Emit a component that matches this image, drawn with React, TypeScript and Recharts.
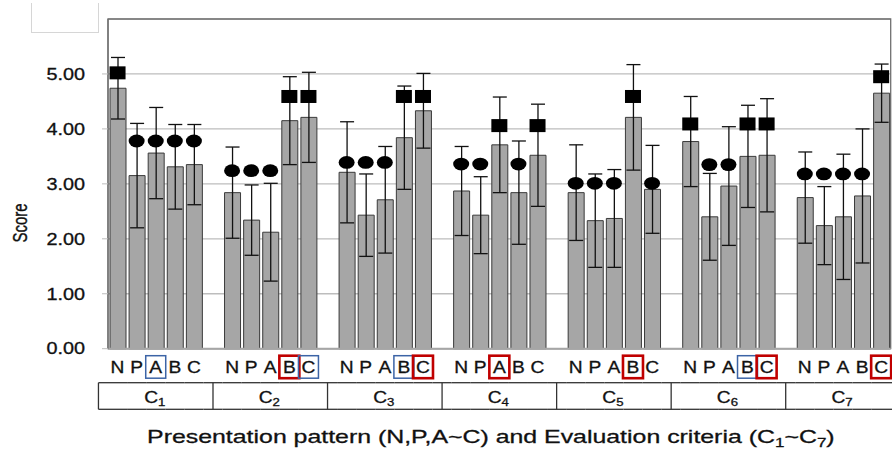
import React from "react";
import {
  ComposedChart,
  Bar,
  ErrorBar,
  Scatter,
  XAxis,
  YAxis,
  CartesianGrid,
  ReferenceArea,
} from "recharts";

// Score by presentation pattern (N,P,A,B,C) within each evaluation criterion C1..C7
const patterns = ["N", "P", "A", "B", "C"];
const criteria = ["1", "2", "3", "4", "5", "6", "7"];
const yTicks = [0, 1, 2, 3, 4, 5];

const means = [
  [4.74, 3.15, 3.56, 3.31, 3.35],
  [2.84, 2.34, 2.12, 4.15, 4.21],
  [3.21, 2.43, 2.71, 3.84, 4.33],
  [2.87, 2.43, 3.71, 2.84, 3.52],
  [2.84, 2.33, 2.37, 4.21, 2.9],
  [3.77, 2.4, 2.96, 3.5, 3.52],
  [2.75, 2.24, 2.4, 2.78, 4.65],
];

const sds = [
  [0.56, 0.95, 0.83, 0.77, 0.73],
  [0.83, 0.64, 0.89, 0.8, 0.82],
  [0.92, 0.75, 0.97, 0.94, 0.68],
  [0.81, 0.7, 0.87, 0.94, 0.93],
  [0.87, 0.85, 0.89, 0.96, 0.8],
  [0.82, 0.79, 1.08, 0.93, 1.03],
  [0.83, 0.71, 1.14, 1.22, 0.53],
];

// s = square (significant high group), c = circle
const markerKinds = [
  ["s", "c", "c", "c", "c"],
  ["c", "c", "c", "s", "s"],
  ["c", "c", "c", "s", "s"],
  ["c", "c", "s", "c", "s"],
  ["c", "c", "c", "s", "c"],
  ["s", "c", "c", "s", "s"],
  ["c", "c", "c", "c", "s"],
];
const squareLevel = [5.02, 4.59, 4.59, 4.06, 4.59, 4.09, 4.95];
const circleLevel = [3.78, 3.24, 3.39, 3.36, 3.01, 3.35, 3.18];

// boxed pattern letters under the bars
const boxes = [
  ["", "", "blue", "", ""],
  ["", "", "", "red", "blue"],
  ["", "", "", "blue", "red"],
  ["", "", "red", "", ""],
  ["", "", "", "red", ""],
  ["", "", "", "blue", "red"],
  ["", "", "", "", "red"],
];

type Row = {
  key: string;
  letter: string;
  mean: number | null;
  sd: number | null;
  mark: number | null;
  kind: string;
  box: string;
  group: number;
  pos: number;
};

// one slot per bar, plus an empty slot between criteria groups
const rows: Row[] = [];
criteria.forEach((_, g) => {
  patterns.forEach((letter, p) => {
    const kind = markerKinds[g][p];
    rows.push({
      key: `${g}-${p}`,
      letter,
      mean: means[g][p],
      sd: sds[g][p],
      mark: kind === "s" ? squareLevel[g] : circleLevel[g],
      kind,
      box: boxes[g][p],
      group: g,
      pos: p,
    });
  });
  if (g < criteria.length - 1) {
    rows.push({ key: `gap${g}`, letter: "", mean: null, sd: null, mark: null, kind: "", box: "", group: g, pos: -1 });
  }
});

const W = 892;
const H = 454;
const PLOT_LEFT = 108;
const PLOT_RIGHT = 890.7;
const SLOT_W = (PLOT_RIGHT - PLOT_LEFT) / rows.length;
const FONT = "'Liberation Sans', Arial, sans-serif";
const SX = 1.24;
const BOX_COLOR: Record<string, string> = { red: "#c00000", blue: "#3c64a6" };
// slight outline so the text reads as heavy as the blurred original
const INK = { fill: "#111", stroke: "#111", strokeWidth: 0.3 };

function YTick({ x, y, payload }: any) {
  return (
    <text
      transform={`translate(${x},${y}) scale(${SX},1)`}
      textAnchor="end"
      dy="0.36em"
      fontSize={16}
      fontFamily={FONT}
      {...INK}
    >
      {Number(payload.value).toFixed(2)}
    </text>
  );
}

function SlotTick({ x, y, payload }: any) {
  const i = payload.index;
  const r = rows[i];
  if (!r) return null;
  const half = SLOT_W / 2;
  const x1 = i === 0 ? x - SLOT_W : x - half;
  const x2 = i === rows.length - 1 ? x + SLOT_W : x + half;
  const tTop = y + 34;
  const tBot = y + 60.6;
  const line = "#333";
  return (
    <g>
      <line x1={x1} x2={x2} y1={tTop} y2={tTop} stroke={line} strokeWidth={1.3} />
      <line x1={x1} x2={x2} y1={tBot} y2={tBot} stroke={line} strokeWidth={1.3} />
      {i === 0 && <line x1={x1} x2={x1} y1={tTop} y2={tBot} stroke={line} strokeWidth={1.3} />}
      {r.pos === -1 && <line x1={x} x2={x} y1={tTop} y2={tBot} stroke={line} strokeWidth={1.3} />}
      {r.box && (
        <rect
          x={x - 10}
          y={y + 7}
          width={20}
          height={22.5}
          fill="none"
          stroke={BOX_COLOR[r.box]}
          strokeWidth={r.box === "red" ? 2.6 : 1.5}
        />
      )}
      {r.letter && (
        <text
          transform={`translate(${x},${y + 24.6}) scale(1.2,1)`}
          textAnchor="middle"
          fontSize={16}
          fontFamily={FONT}
          {...INK}
        >
          {r.letter}
        </text>
      )}
      {r.pos === 2 && (
        <text
          transform={`translate(${x - 1},${y + 54}) scale(1.2,1)`}
          textAnchor="middle"
          fontSize={16}
          fontFamily={FONT}
          {...INK}
        >
          C
          <tspan fontSize={11} dy={3.5}>
            {criteria[r.group]}
          </tspan>
        </text>
      )}
    </g>
  );
}

function TitleLabel({ viewBox }: any) {
  const vb = viewBox || { x: PLOT_LEFT, y: 348.7, width: PLOT_RIGHT - PLOT_LEFT };
  return (
    <text
      transform={`translate(${vb.x + vb.width / 2 - 8.5},${vb.y + 94.6}) scale(1.31,1)`}
      textAnchor="middle"
      fontSize={19}
      fontFamily={FONT}
      {...INK}
    >
      Presentation pattern (N,P,A~C) and Evaluation criteria (C
      <tspan fontSize={13} dy={4}>
        {criteria[0]}
      </tspan>
      <tspan dy={-4}>~C</tspan>
      <tspan fontSize={13} dy={4}>
        {criteria[criteria.length - 1]}
      </tspan>
      <tspan dy={-4}>)</tspan>
    </text>
  );
}

function ScoreLabel({ viewBox }: any) {
  const vb = viewBox || { x: 0, y: 19 };
  return (
    <text
      transform={`translate(${vb.x + 26.7},${vb.y + 204}) scale(1.3,1) rotate(-90)`}
      textAnchor="middle"
      fontSize={15}
      fontFamily={FONT}
      {...INK}
    >
      Score
    </text>
  );
}

function Marker(props: any) {
  const { cx, cy, payload } = props;
  if (!payload || !payload.kind || cx == null || cy == null || isNaN(cy)) return <g />;
  if (payload.kind === "s") {
    return <rect x={cx - 8} y={cy - 6.5} width={16} height={13} fill="#000" />;
  }
  return <ellipse cx={cx} cy={cy} rx={8} ry={6.4} fill="#000" />;
}

export default function App() {
  return (
    <div style={{ position: "absolute", left: 0, top: 0, width: W, height: H, background: "#fff", overflow: "hidden" }}>
      <div
        style={{
          position: "absolute",
          left: 31,
          top: 3,
          width: 66,
          height: 29,
          borderLeft: "1px solid #d6d6d6",
          borderRight: "1px solid #d6d6d6",
          borderBottom: "1px solid #d6d6d6",
        }}
      />
      <ComposedChart
        width={W}
        height={H}
        data={rows}
        margin={{ top: 19, right: W - PLOT_RIGHT, bottom: 0, left: 0 }}
      >
        <CartesianGrid vertical={false} stroke="#bdbdbd" strokeWidth={1.3} />
        <ReferenceArea y1={0} y2={6} fill="none" stroke="#707070" strokeWidth={1.3} ifOverflow="visible" />
        <XAxis
          dataKey="key"
          height={105.3}
          interval={0}
          tickSize={0}
          tickMargin={0}
          tickLine={false}
          axisLine={{ stroke: "#a6a6a6", strokeWidth: 2 }}
          tick={<SlotTick />}
          label={<TitleLabel />}
        />
        <YAxis
          width={PLOT_LEFT}
          domain={[0, 6]}
          ticks={yTicks}
          tickSize={6}
          tickMargin={17}
          tickLine={{ stroke: "#bdbdbd" }}
          axisLine={{ stroke: "#707070", strokeWidth: 1.3 }}
          tick={<YTick />}
          label={<ScoreLabel />}
        />
        <Bar
          dataKey="mean"
          barSize={16}
          fill="#a6a6a6"
          stroke="#3a3a3a"
          strokeWidth={1}
          isAnimationActive={false}
        >
          <ErrorBar dataKey="sd" width={7} stroke="#111" strokeWidth={1.3} direction="y" />
        </Bar>
        <Scatter dataKey="mark" shape={Marker} isAnimationActive={false} />
      </ComposedChart>
    </div>
  );
}
